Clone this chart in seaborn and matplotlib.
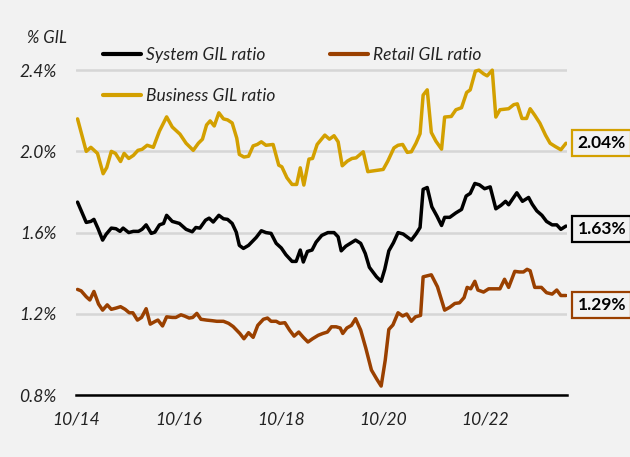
import numpy as np
import pandas as pd
import matplotlib
matplotlib.use("Agg")
import matplotlib.pyplot as plt
import seaborn as sns

# ---- data (decimal year, % GIL) ----
system_years = [2014.78, 2014.95, 2015.04, 2015.10, 2015.18, 2015.27, 2015.34, 2015.44, 2015.53, 2015.61,
                2015.67, 2015.78, 2015.87, 2015.97, 2016.04, 2016.12, 2016.22, 2016.29, 2016.38, 2016.46,
                2016.52, 2016.63, 2016.77, 2016.90, 2017.02, 2017.09, 2017.17, 2017.28, 2017.35, 2017.43,
                2017.54, 2017.63, 2017.71, 2017.80, 2017.88, 2017.94, 2018.02, 2018.12, 2018.27, 2018.37,
                2018.46, 2018.56, 2018.66, 2018.76, 2018.85, 2018.97, 2019.05, 2019.13, 2019.19, 2019.27,
                2019.36, 2019.44, 2019.55, 2019.67, 2019.79, 2019.87, 2019.93, 2020.02, 2020.21, 2020.31,
                2020.40, 2020.48, 2020.62, 2020.71, 2020.78, 2020.86, 2020.95, 2021.04, 2021.14, 2021.30,
                2021.39, 2021.47, 2021.53, 2021.61, 2021.70, 2021.80, 2021.89, 2021.95, 2022.05, 2022.17,
                2022.28, 2022.37, 2022.45, 2022.54, 2022.63, 2022.73, 2022.84, 2022.95, 2023.05, 2023.14,
                2023.20, 2023.36, 2023.47, 2023.59, 2023.66, 2023.75, 2023.85, 2023.94, 2024.05, 2024.14,
                2024.22, 2024.32]
system_vals = [1.75, 1.65, 1.655, 1.665, 1.62, 1.563, 1.592, 1.622, 1.619, 1.606,
               1.622, 1.60, 1.606, 1.606, 1.616, 1.638, 1.596, 1.602, 1.638, 1.645,
               1.685, 1.655, 1.645, 1.616, 1.604, 1.625, 1.622, 1.661, 1.671, 1.652,
               1.685, 1.668, 1.665, 1.645, 1.602, 1.537, 1.522, 1.537, 1.576, 1.609,
               1.60, 1.596, 1.547, 1.524, 1.491, 1.458, 1.458, 1.514, 1.455, 1.507,
               1.514, 1.553, 1.586, 1.60, 1.60, 1.579, 1.51, 1.533, 1.563, 1.547,
               1.497, 1.429, 1.382, 1.36, 1.419, 1.51, 1.55, 1.60, 1.593, 1.563,
               1.593, 1.625, 1.813, 1.822, 1.727, 1.681, 1.635, 1.675, 1.675, 1.697,
               1.714, 1.78, 1.793, 1.842, 1.835, 1.816, 1.825, 1.717, 1.734, 1.754,
               1.737, 1.796, 1.754, 1.773, 1.74, 1.707, 1.685, 1.655, 1.638, 1.638,
               1.616, 1.632]

business_years = [2014.78, 2014.95, 2015.04, 2015.17, 2015.28, 2015.35, 2015.44, 2015.52, 2015.62, 2015.69,
                  2015.78, 2015.87, 2015.96, 2016.04, 2016.14, 2016.26, 2016.38, 2016.52, 2016.63, 2016.78,
                  2016.90, 2017.04, 2017.14, 2017.22, 2017.30, 2017.37, 2017.45, 2017.54, 2017.63, 2017.71,
                  2017.80, 2017.89, 2017.94, 2018.03, 2018.12, 2018.21, 2018.29, 2018.37, 2018.46, 2018.60,
                  2018.71, 2018.77, 2018.87, 2018.97, 2019.06, 2019.13, 2019.20, 2019.30, 2019.37, 2019.46,
                  2019.61, 2019.70, 2019.79, 2019.87, 2019.95, 2020.05, 2020.14, 2020.22, 2020.36, 2020.45,
                  2020.75, 2020.84, 2020.96, 2021.04, 2021.13, 2021.22, 2021.30, 2021.39, 2021.47, 2021.53,
                  2021.61, 2021.69, 2021.78, 2021.89, 2021.95, 2022.08, 2022.17, 2022.28, 2022.38, 2022.45,
                  2022.55, 2022.62, 2022.71, 2022.78, 2022.88, 2022.95, 2023.03, 2023.20, 2023.30, 2023.37,
                  2023.46, 2023.55, 2023.62, 2023.71, 2023.81, 2023.92, 2024.01, 2024.11, 2024.22, 2024.32]
business_vals = [2.16, 2.00, 2.02, 1.99, 1.89, 1.92, 2.00, 1.99, 1.95, 1.99,
                 1.965, 1.98, 2.005, 2.01, 2.03, 2.02, 2.10, 2.17, 2.12, 2.085,
                 2.04, 2.005, 2.04, 2.06, 2.13, 2.15, 2.125, 2.19, 2.16, 2.155,
                 2.14, 2.065, 1.985, 1.972, 1.976, 2.027, 2.034, 2.047, 2.03, 2.034,
                 1.932, 1.924, 1.87, 1.837, 1.837, 1.919, 1.834, 1.962, 1.965, 2.034,
                 2.08, 2.06, 2.077, 2.047, 1.929, 1.952, 1.965, 1.968, 1.998, 1.90,
                 1.911, 1.952, 2.017, 2.03, 2.034, 1.995, 1.998, 2.04, 2.087, 2.277,
                 2.303, 2.093, 2.05, 2.011, 2.169, 2.172, 2.205, 2.215, 2.29, 2.303,
                 2.395, 2.40, 2.382, 2.372, 2.40, 2.169, 2.205, 2.21, 2.23, 2.234,
                 2.162, 2.162, 2.21, 2.178, 2.139, 2.08, 2.04, 2.024, 2.008, 2.04]

retail_years = [2014.78, 2014.85, 2014.95, 2015.02, 2015.10, 2015.19, 2015.27, 2015.36, 2015.44, 2015.53,
                2015.62, 2015.71, 2015.79, 2015.86, 2015.95, 2016.03, 2016.12, 2016.20, 2016.30, 2016.35,
                2016.44, 2016.52, 2016.63, 2016.70, 2016.80, 2016.87, 2016.96, 2017.03, 2017.11, 2017.19,
                2017.30, 2017.41, 2017.50, 2017.63, 2017.73, 2017.82, 2017.95, 2018.03, 2018.12, 2018.21,
                2018.30, 2018.41, 2018.49, 2018.56, 2018.66, 2018.73, 2018.83, 2018.92, 2019.01, 2019.10,
                2019.19, 2019.28, 2019.37, 2019.48, 2019.57, 2019.66, 2019.74, 2019.83, 2019.91, 2019.96,
                2020.04, 2020.13, 2020.21, 2020.31, 2020.41, 2020.52, 2020.62, 2020.71, 2020.79, 2020.86,
                2020.94, 2021.04, 2021.13, 2021.21, 2021.30, 2021.38, 2021.48, 2021.53, 2021.69, 2021.81,
                2021.95, 2022.05, 2022.15, 2022.24, 2022.33, 2022.39, 2022.46, 2022.54, 2022.60, 2022.71,
                2022.81, 2023.03, 2023.12, 2023.20, 2023.32, 2023.41, 2023.49, 2023.56, 2023.62, 2023.71,
                2023.84, 2023.94, 2024.05, 2024.14, 2024.22, 2024.32]
retail_vals = [1.32, 1.313, 1.284, 1.268, 1.31, 1.248, 1.218, 1.244, 1.222, 1.228,
               1.235, 1.222, 1.205, 1.205, 1.169, 1.182, 1.225, 1.149, 1.163, 1.169,
               1.14, 1.185, 1.182, 1.182, 1.195, 1.189, 1.179, 1.182, 1.202, 1.173,
               1.169, 1.166, 1.163, 1.163, 1.153, 1.137, 1.103, 1.077, 1.107, 1.084,
               1.143, 1.173, 1.179, 1.163, 1.163, 1.153, 1.156, 1.12, 1.09, 1.11,
               1.084, 1.061, 1.077, 1.094, 1.103, 1.11, 1.136, 1.136, 1.13, 1.103,
               1.13, 1.143, 1.176, 1.12, 1.031, 0.923, 0.88, 0.844, 0.972, 1.123,
               1.145, 1.205, 1.189, 1.199, 1.163, 1.185, 1.192, 1.382, 1.392, 1.333,
               1.218, 1.232, 1.251, 1.254, 1.28, 1.33, 1.323, 1.36, 1.317, 1.307,
               1.323, 1.323, 1.37, 1.33, 1.409, 1.406, 1.406, 1.419, 1.412, 1.33,
               1.33, 1.304, 1.297, 1.317, 1.29, 1.29]

series_names = ["System GIL ratio", "Business GIL ratio", "Retail GIL ratio"]
series_colors = ["#000000", "#d3a000", "#9a4000"]
last_labels = ["1.63%", "2.04%", "1.29%"]

y_ticks = [0.8, 1.2, 1.6, 2.0, 2.4]
y_tick_labels = ["0.8%", "1.2%", "1.6%", "2.0%", "2.4%"]
x_ticks = [2014.75, 2016.75, 2018.75, 2020.75, 2022.75]
x_tick_labels = ["10/14", "10/16", "10/18", "10/20", "10/22"]

df = pd.concat([
    pd.DataFrame({"year": system_years, "value": system_vals, "series": series_names[0]}),
    pd.DataFrame({"year": business_years, "value": business_vals, "series": series_names[1]}),
    pd.DataFrame({"year": retail_years, "value": retail_vals, "series": series_names[2]}),
], ignore_index=True)

sns.set_theme(style="white")
plt.rcParams["font.family"] = ["Lato", "DejaVu Sans"]

BG = "#f2f2f2"
W, H = 630, 457
fig = plt.figure(figsize=(W / 100, H / 100), dpi=100, facecolor=BG)
ax = fig.add_axes([76 / W, 1 - 395 / H, (567 - 76) / W, (395 - 60) / H])
ax.set_facecolor(BG)

sns.lineplot(data=df, x="year", y="value", hue="series", hue_order=series_names,
             palette=dict(zip(series_names, series_colors)), estimator=None,
             linewidth=2.5, legend=False, ax=ax, zorder=3)
for ln in ax.get_lines():
    ln.set_solid_joinstyle("round")
    ln.set_solid_capstyle("round")

ax.set_xlim(2014.75, 2024.34)
ax.set_ylim(0.8, 2.45)
ax.set_yticks(y_ticks)
ax.set_yticklabels(y_tick_labels)
ax.set_xticks(x_ticks)
ax.set_xticklabels(x_tick_labels)
ax.set_xlabel("")
ax.set_ylabel("")

ax.yaxis.grid(True, color="#d6d6d6", linewidth=1.8, zorder=0)
ax.xaxis.grid(False)
for s in ["left", "right", "top"]:
    ax.spines[s].set_visible(False)
ax.spines["bottom"].set_color("black")
ax.spines["bottom"].set_linewidth(1.8)
ax.spines["bottom"].set_zorder(4)

ax.tick_params(axis="y", length=0, pad=14, labelsize=12.5, labelcolor="#222222")
ax.tick_params(axis="x", direction="inout", length=6, width=1.8, color="black",
               pad=9, labelsize=12.5, labelcolor="#222222")
for t in ax.get_xticklabels() + ax.get_yticklabels():
    t.set_fontstyle("italic")

fig.text(27 / W, 1 - 38 / H, "% GIL", fontsize=12, fontstyle="italic",
         color="#222222", va="center", ha="left")

lines = ax.get_lines()
handles = [lines[0], lines[1], lines[2]]
leg = ax.legend(handles, series_names, ncol=2, loc="upper left",
                bbox_to_anchor=(103 / W, 1 - 47 / H), bbox_transform=fig.transFigure,
                frameon=False, fontsize=12.5, handlelength=2.2, handletextpad=0.3,
                columnspacing=3.1, labelspacing=1.45, borderpad=0, borderaxespad=0)
for t in leg.get_texts():
    t.set_fontstyle("italic")
    t.set_color("#222222")
for lh in leg.get_lines():
    lh.set_linewidth(3)

offsets = [-2, 0, -7]
vals_last = [system_vals[-1], business_vals[-1], retail_vals[-1]]
for lab, v, c, dy in zip(last_labels, vals_last, series_colors, offsets):
    ax.annotate(lab, xy=(1.0, v), xycoords=("axes fraction", "data"),
                xytext=(7.5, dy), textcoords="offset points",
                ha="left", va="center", fontsize=12.5, fontweight="bold", color="black",
                bbox=dict(boxstyle="square,pad=0.3", fc=BG, ec=c, lw=1.6),
                annotation_clip=False)

fig.savefig("out.png", dpi=100, facecolor=BG)
